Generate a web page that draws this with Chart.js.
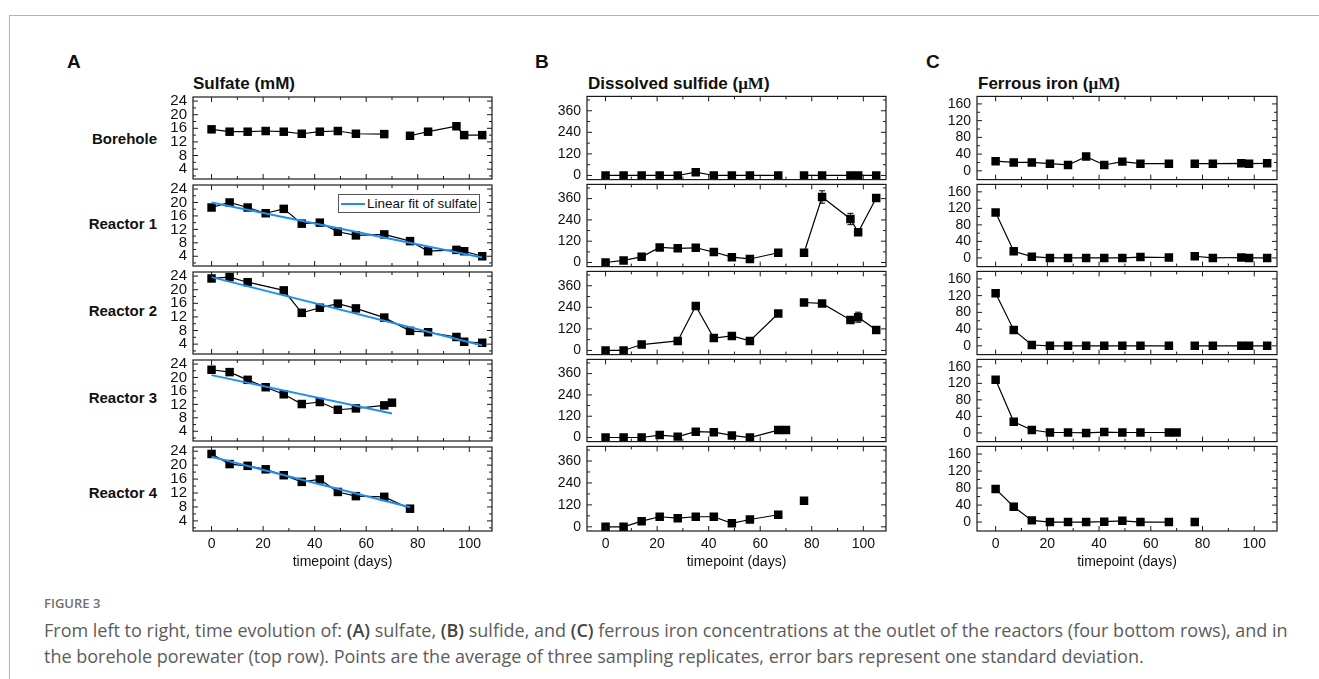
<!DOCTYPE html>
<html>
<head>
<meta charset="utf-8">
<script src="https://cdn.jsdelivr.net/npm/chart.js@4.4.0/dist/chart.umd.min.js"></script>
<style>
  body { margin: 0; background: #fff; width: 1319px; height: 679px; overflow: hidden; position: relative;
         font-family: "Liberation Sans", Arial, sans-serif; color: #111; }
  .frame { position: absolute; left: 9px; top: 15px; width: 1400px; height: 700px;
           border-top: 1px solid #b4b4b4; border-left: 1px solid #b4b4b4; }
  .t { position: absolute; white-space: nowrap; line-height: 1; transform: translateY(-50%); }
  .letter { font-weight: bold; font-size: 19px; }
  .title { font-weight: bold; font-size: 17px; }
  .mu { font-family: "Liberation Serif", "Times New Roman", serif; }
  .rowlab { font-weight: bold; font-size: 15px; text-align: right; width: 140px; }
  canvas { position: absolute; }
  .legend { position: absolute; left: 338px; top: 194px; width: 142px; height: 19px; box-sizing: border-box;
            border: 1px solid #555; background: #fff; }
  .legend .sw { position: absolute; left: 2px; top: 8px; width: 24px; height: 2px; background: #1e8ff0; }
  .legend span { position: absolute; left: 28px; top: 1px; font-size: 13.5px; line-height: 16px; }
  .cap { position: absolute; left: 44px; white-space: nowrap; font-family: "Open Sans", Lato, sans-serif;
         color: #5c5c5c; transform: translateY(-50%); line-height: 1; }
  .cap.head { font-size: 13px; font-weight: 600; color: #707070; }
  .cap.body { font-size: 18px; }
  .cap b { color: #444; font-weight: 600; }
</style>
</head>
<body>
<div class="frame"></div>

<div class="t letter" style="left:67px;top:61px">A</div>
<div class="t letter" style="left:535px;top:61px">B</div>
<div class="t letter" style="left:926px;top:61px">C</div>

<div class="t title" style="left:193px;top:83px">Sulfate (mM)</div>
<div class="t title" style="left:588px;top:83px">Dissolved sulfide (<span class="mu">μM</span>)</div>
<div class="t title" style="left:978px;top:83px">Ferrous iron (<span class="mu">μM</span>)</div>

<div class="t rowlab" style="left:17px;top:138px">Borehole</div>
<div class="t rowlab" style="left:17px;top:223px">Reactor 1</div>
<div class="t rowlab" style="left:17px;top:310px">Reactor 2</div>
<div class="t rowlab" style="left:17px;top:397px">Reactor 3</div>
<div class="t rowlab" style="left:17px;top:492px">Reactor 4</div>

<div id="charts"></div>

<div class="legend"><div class="sw"></div><span>Linear fit of sulfate</span></div>

<div class="cap head" style="top:603px">FIGURE 3</div>
<div class="cap body" style="top:630px">From left to right, time evolution of: <b>(A)</b> sulfate, <b>(B)</b> sulfide, and <b>(C)</b> ferrous iron concentrations at the outlet of the reactors (four bottom rows), and in</div>
<div class="cap body" style="top:656px">the borehole porewater (top row). Points are the average of three sampling replicates, error bars represent one standard deviation.</div>

<script>
// sampling days
const days = [0, 7, 14, 21, 28, 35, 42, 49, 56, 67, 77, 84, 95, 98, 105];
const daysR3 = [0, 7, 14, 21, 28, 35, 42, 49, 56, 67, 70];
const daysR4 = [0, 7, 14, 21, 28, 35, 42, 49, 56, 67, 77];

// sulfate (mM)
const sulfateBorehole = [15.7, 15.0, 15.0, 15.2, 15.0, 14.4, 15.0, 15.2, 14.4, 14.3, 13.8, 15.0, 16.6, 14.0, 14.0];
const sulfateR1 = [18.5, 20.0, 18.5, 16.8, 18.1, 13.7, 14.0, 11.3, 10.2, 10.5, 8.5, 5.5, 5.9, 5.5, 4.0];
const sulfateR2 = [23.3, 23.7, 22.2, null, 19.8, 13.2, 14.7, 15.9, 14.5, 11.8, 7.9, 7.5, 6.1, 4.7, 4.4];
const sulfateR3 = [22.3, 21.6, 19.3, 17.1, 15.0, 12.1, 12.7, 10.4, 10.8, 11.7, 12.5];
const sulfateR4 = [23.2, 20.3, 19.8, 18.8, 17.1, 15.2, 15.9, 12.3, 11.1, 10.9, 7.5];

// linear fits of sulfate (end points)
const fitR1Days = [0, 105], fitR1 = [20.0, 3.6];
const fitR2Days = [0, 105], fitR2 = [23.7, 3.6];
const fitR3Days = [0, 70], fitR3 = [20.7, 9.3];
const fitR4Days = [0, 77], fitR4 = [22.4, 7.9];

// dissolved sulfide (uM)
const sulfideBorehole = [0, 0, 0, 0, 0, 18, 0, 0, 0, 0, 0, 0, 0, 0, 0];
const sulfideR1 = [0, 12, 32, 85, 80, 83, 59, 30, 20, 55, 55, 369, 245, 170, 363];
const sulfideR1Err = [0, 0, 0, 0, 0, 0, 0, 0, 0, 0, 0, 35, 32, 0, 15];
const sulfideR2 = [0, 0, 33, null, 53, 248, 69, 81, 53, 206, 267, 262, 170, 185, 114];
const sulfideR2Err = [0, 0, 0, 0, 0, 0, 0, 0, 0, 0, 0, 0, 0, 28, 0];
const sulfideR3 = [0, 0, 0, 14, 5, 33, 30, 12, 0, 42, 42];
const sulfideR4 = [0, 0, 31, 55, 47, 55, 55, 19, 40, 66, 142];

// ferrous iron (uM)
const ironBorehole = [23, 20, 20, 17, 14, 34, 14, 22, 17, 17, 17, 17, 18, 17, 18];
const ironR1 = [110, 16, 3, 0, 0, 0, 0, 0, 2, 1, 4, 0, 1, 0, 0];
const ironR2 = [126, 38, 2, 0, 0, 0, 0, 0, 0, 0, 0, 0, 0, 0, 0];
const ironR3 = [129, 27, 7, 1, 1, 0, 2, 1, 1, 1, 1];
const ironR4 = [78, 36, 4, 0, 0, 0, 1, 3, 0, 0, 0];

// tick labels
const xTicks = [0, 20, 40, 60, 80, 100];
const sulfateTicks = [4, 8, 12, 16, 20, 24];
const sulfideTicks = [0, 120, 240, 360];
const ironTicks = [0, 40, 80, 120, 160];

const FONT = '"Liberation Sans", Arial, sans-serif';
const BLUE = '#1e8ff0';

const cols = [
  { left: 193, width: 299, min: 1.1, max: 25.2, ticks: sulfateTicks, minor: 2, fs: 15 },
  { left: 587, width: 299, min: -23, max: 440, ticks: sulfideTicks, minor: 60, fs: 14 },
  { left: 977, width: 300, min: -21, max: 178, ticks: ironTicks, minor: 20, fs: 14 }
];
const rowTops = [94, 182, 269, 357, 444];
const rowBottom = 531;

const panels = [
  { col: 0, row: 0, s: { x: days, y: sulfateBorehole, breaks: [67] } },
  { col: 0, row: 1, s: { x: days, y: sulfateR1 }, fit: { x: fitR1Days, y: fitR1 } },
  { col: 0, row: 2, s: { x: days, y: sulfateR2 }, fit: { x: fitR2Days, y: fitR2 } },
  { col: 0, row: 3, s: { x: daysR3, y: sulfateR3 }, fit: { x: fitR3Days, y: fitR3 } },
  { col: 0, row: 4, s: { x: daysR4, y: sulfateR4 }, fit: { x: fitR4Days, y: fitR4 } },
  { col: 1, row: 0, s: { x: days, y: sulfideBorehole, breaks: [67] } },
  { col: 1, row: 1, s: { x: days, y: sulfideR1, err: sulfideR1Err, breaks: [67] } },
  { col: 1, row: 2, s: { x: days, y: sulfideR2, err: sulfideR2Err, breaks: [14, 67] } },
  { col: 1, row: 3, s: { x: daysR3, y: sulfideR3 } },
  { col: 1, row: 4, s: { x: daysR4, y: sulfideR4, breaks: [67] } },
  { col: 2, row: 0, s: { x: days, y: ironBorehole, breaks: [67] } },
  { col: 2, row: 1, s: { x: days, y: ironR1, breaks: [67] } },
  { col: 2, row: 2, s: { x: days, y: ironR2, breaks: [67] } },
  { col: 2, row: 3, s: { x: daysR3, y: ironR3 } },
  { col: 2, row: 4, s: { x: daysR4, y: ironR4, breaks: [67] } }
];

// box around each plot with Origin-style inward ticks, plus error bars
const framePlugin = {
  id: 'frame',
  afterDatasetsDraw(chart) {
    const ctx = chart.ctx;
    const xs = chart.scales.x, ys = chart.scales.y;
    ctx.save();
    ctx.strokeStyle = '#000';
    ctx.lineWidth = 1;
    chart.data.datasets.forEach(ds => {
      if (!ds.errorBars) return;
      ds.data.forEach((p, j) => {
        const e = ds.errorBars[j];
        if (!e || p.y == null) return;
        const px = xs.getPixelForValue(p.x);
        const y1 = ys.getPixelForValue(p.y + e), y2 = ys.getPixelForValue(p.y - e);
        ctx.beginPath();
        ctx.moveTo(px, y1); ctx.lineTo(px, y2);
        ctx.moveTo(px - 3, y1); ctx.lineTo(px + 3, y1);
        ctx.moveTo(px - 3, y2); ctx.lineTo(px + 3, y2);
        ctx.stroke();
      });
    });
    const a = chart.chartArea;
    const c = chart.options.plugins.frame;
    ctx.strokeStyle = '#1a1a1a';
    ctx.lineWidth = 1.2;
    ctx.strokeRect(a.left, a.top, a.right - a.left, a.bottom - a.top);
    ctx.lineWidth = 1;
    const tick = (x1, y1, x2, y2) => { ctx.beginPath(); ctx.moveTo(x1, y1); ctx.lineTo(x2, y2); ctx.stroke(); };
    const xMajor = xTicks, xMinor = [10, 30, 50, 70, 90];
    xMajor.concat(xMinor).forEach(v => {
      const L = xMajor.includes(v) ? 5 : 3;
      const px = xs.getPixelForValue(v);
      tick(px, a.bottom, px, a.bottom - L);
      tick(px, a.top, px, a.top + L);
    });
    const yMinor = [];
    for (let v = Math.ceil(c.min / c.minor) * c.minor; v <= c.max; v += c.minor) {
      if (!c.ticks.includes(v)) yMinor.push(v);
    }
    c.ticks.concat(yMinor).forEach(v => {
      const L = c.ticks.includes(v) ? 5 : 3;
      const py = ys.getPixelForValue(v);
      if (py < a.top + 1 || py > a.bottom - 1) return;
      tick(a.left, py, a.left + L, py);
      tick(a.right, py, a.right - L, py);
    });
    ctx.restore();
  }
};

const holder = document.getElementById('charts');

panels.forEach(p => {
  const c = cols[p.col];
  const top = rowTops[p.row];
  const bottom = p.row < 4 ? rowTops[p.row + 1] : rowBottom;
  const H = bottom - top;
  const isBottom = p.row === 4;
  const cv = document.createElement('canvas');
  cv.width = 70 + c.width + 12;
  cv.height = 12 + H + (isBottom ? 42 : 12);
  cv.style.left = (c.left - 70) + 'px';
  cv.style.top = (top - 12) + 'px';
  holder.appendChild(cv);

  const breaks = p.s.breaks || [];
  const datasets = [{
    data: p.s.x.map((d, i) => ({ x: d, y: p.s.y[i] })),
    errorBars: p.s.err,
    borderColor: '#000',
    borderWidth: 1.2,
    pointStyle: 'rect',
    pointRadius: 6,
    pointBackgroundColor: '#000',
    pointBorderWidth: 0,
    spanGaps: true,
    order: 1,
    segment: {
      borderColor: ctx => breaks.includes(ctx.p0.parsed.x) ? 'rgba(0,0,0,0)' : undefined
    }
  }];
  if (p.fit) {
    datasets.push({
      data: p.fit.x.map((d, i) => ({ x: d, y: p.fit.y[i] })),
      borderColor: BLUE,
      borderWidth: 2,
      pointRadius: 0,
      order: 0
    });
  }

  new Chart(cv, {
    type: 'line',
    data: { datasets: datasets },
    options: {
      responsive: false,
      animation: false,
      layout: { padding: { left: 0, right: 12, top: 12, bottom: isBottom ? 2 : 12 } },
      plugins: {
        legend: { display: false },
        tooltip: { enabled: false },
        frame: c
      },
      scales: {
        x: {
          type: 'linear',
          min: -7.2,
          max: 108.8,
          display: isBottom,
          afterBuildTicks: s => { s.ticks = xTicks.map(v => ({ value: v })); },
          afterFit: s => { if (isBottom) s.height = 40; },
          grid: { display: false, drawTicks: false },
          border: { display: false },
          ticks: { font: { size: 14, family: FONT }, color: '#111', padding: 5, maxRotation: 0, autoSkip: false },
          title: { display: true, text: 'timepoint (days)', font: { size: 14, family: FONT }, color: '#111', padding: 0 }
        },
        y: {
          type: 'linear',
          min: c.min,
          max: c.max,
          afterBuildTicks: s => { s.ticks = c.ticks.map(v => ({ value: v })); },
          afterFit: s => { s.width = 70; },
          grid: { display: false, drawTicks: false },
          border: { display: false },
          ticks: { font: { size: c.fs, family: FONT }, color: '#111', padding: 6, autoSkip: false }
        }
      }
    },
    plugins: [framePlugin]
  });
});
</script>
</body>
</html>
